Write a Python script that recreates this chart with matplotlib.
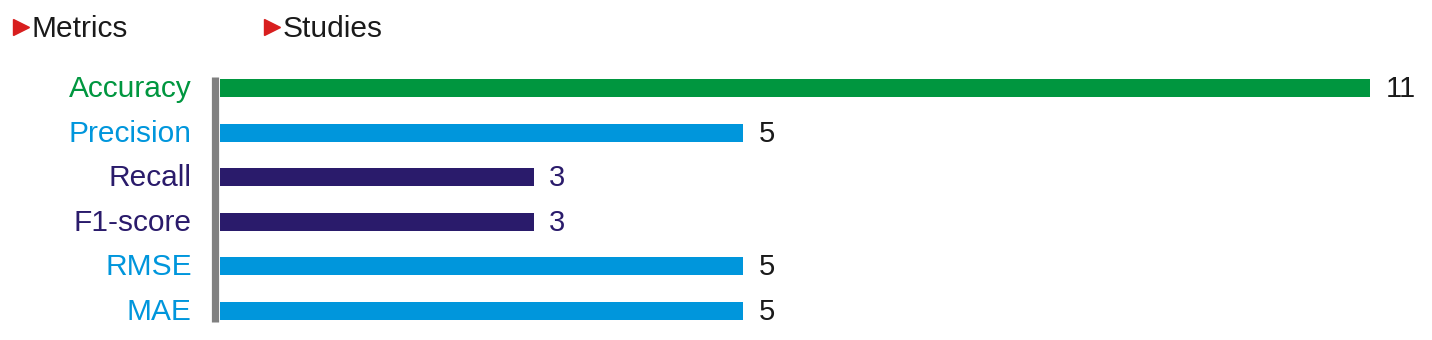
import matplotlib
matplotlib.use("Agg")
import matplotlib.pyplot as plt
from matplotlib.lines import Line2D

metrics = ["Accuracy", "Precision", "Recall", "F1-score", "RMSE", "MAE"]
studies = [11, 5, 3, 3, 5, 5]
bar_colors = ["#00963F", "#0096DC", "#2A1B6B", "#2A1B6B", "#0096DC", "#0096DC"]
value_colors = ["#1a1a1a", "#1a1a1a", "#2A1B6B", "#2A1B6B", "#1a1a1a", "#1a1a1a"]
headers = ["Metrics", "Studies"]

plt.rcParams['font.family'] = ['Liberation Sans', 'DejaVu Sans']

W, H = 1432, 340
fig = plt.figure(figsize=(W / 100, H / 100), dpi=100)
ax_left, ax_right = 220, 1422
ax_top, ax_bot = 66, 333
ax = fig.add_axes([ax_left / W, 1 - ax_bot / H, (ax_right - ax_left) / W, (ax_bot - ax_top) / H])

y = list(range(len(metrics)))
ax.barh(y, studies, height=0.4, color=bar_colors, left=0)
ax.set_xlim(0, 11.5)
ax.set_ylim(5.5, -0.5)
ax.axis("off")

# gray baseline
ax.plot([-0.045, -0.045], [-0.25, 5.25], color="#808080", lw=5.2, clip_on=False,
        solid_capstyle="butt")

for yi, v, c in zip(y, studies, value_colors):
    ax.text(v + 0.15, yi + 0.02, str(v), va="center", ha="left", fontsize=21, color=c)

for yi, m, c in zip(y, metrics, bar_colors):
    ax.text(-0.27, yi + 0.02, m, va="center", ha="right", fontsize=21.5, color=c)

# headers
for x_tri, x_txt, h in [(21, 32, headers[0]), (272, 283, headers[1])]:
    fig.add_artist(Line2D([x_tri / W], [1 - 27 / H], marker=">", markersize=11,
                          color="#D81E1E", transform=fig.transFigure, linestyle="none"))
    fig.text(x_txt / W, 1 - 29 / H, h, fontsize=21.5, color="#1a1a1a",
             va="center", ha="left")

fig.savefig("out.png", dpi=100, facecolor="white")
